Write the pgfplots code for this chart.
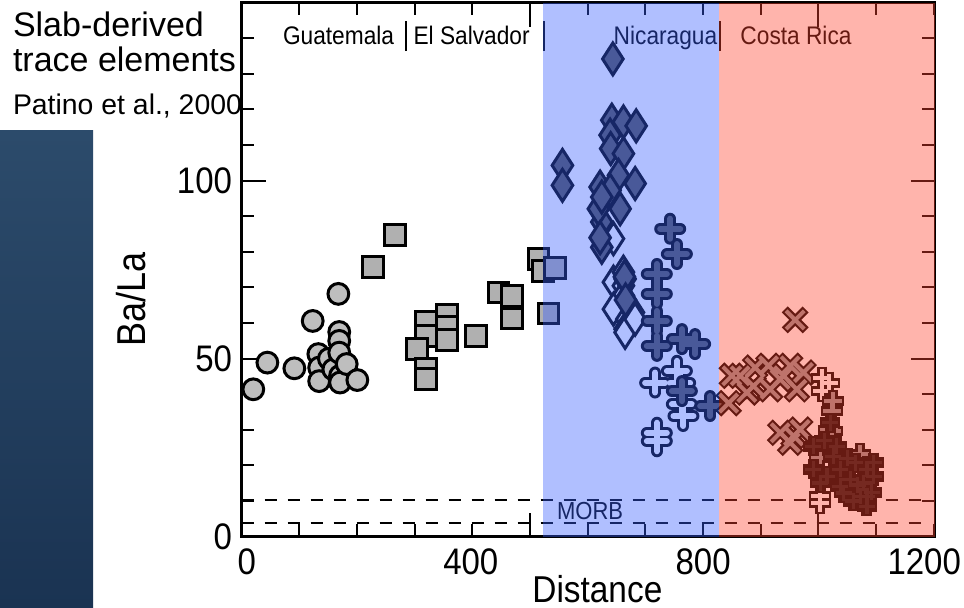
\documentclass[border=0pt]{standalone}
\usepackage{pgfplots}
\pgfplotsset{compat=1.18}
\usepackage{pgfplotstable}
\usepackage{graphicx}
\usepackage{fontspec}
\setmainfont{Liberation Sans}
\newcommand{\tall}[1]{\scalebox{1}[1.12]{#1}}
\definecolor{ovblue}{RGB}{57,95,255}
\definecolor{ovred}{RGB}{255,67,47}
\definecolor{gcirc}{RGB}{190,190,190}
\definecolor{gsq}{RGB}{176,176,176}
\definecolor{gdark}{RGB}{85,85,85}
\definecolor{gmid}{RGB}{147,147,147}
\definecolor{gblk}{RGB}{25,25,25}
\definecolor{panelTop}{RGB}{44,75,107}
\definecolor{panelBot}{RGB}{26,51,82}

% Guatemala (circles)
\pgfplotstableread{
x y
20.1 41.4
44.5 48.9
91.3 47.3
123.1 60.6
132.9 51.3
134.3 47.5
134.3 43.7
151.2 50.0
158.8 47.0
167.6 68.2
169.1 57.5
169.1 55.0
169.1 51.7
170.5 45.2
170.5 43.3
182.0 48.5
200.5 44.0
}\guat
% El Salvador (squares)
\pgfplotstableread{
x y
265.9 84.8
228.2 75.7
319.0 60.2
319.0 56.4
303.5 52.7
319.0 47.0
319.0 44.2
356.6 62.3
356.6 59.0
356.6 55.3
405.8 56.4
445.1 68.6
468.2 67.7
468.2 61.3
514.4 78.0
523.0 74.7
543.4 75.4
531.8 62.7
}\salv
% Nicaragua open diamonds
\pgfplotstableread{
x y
644.5 83.7
644.5 71.5
661.8 74.3
661.8 70.5
661.8 67.7
644.5 63.9
667.7 61.1
664.7 58.3
679.2 63.0
664.7 72.4
664.7 57.4
682.1 61.1
}\diaO
% Nicaragua filled diamonds
\pgfplotstableread{
x y
643.5 134.2
556.1 104.3
556.1 98.7
641.7 117.0
661.8 116.5
683.9 115.4
638.7 112.8
639.7 109.0
661.8 107.6
653.2 101.5
682.1 99.2
621.4 98.2
638.7 97.3
656.1 92.1
624.3 88.4
618.4 92.1
624.3 95.4
624.3 81.3
621.4 84.0
663.5 73.0
665.5 66.5
}\diaF
% Nicaragua open crosses
\pgfplotstableread{
x y
716.8 43.3
754.5 46.6
763.1 37.2
765.9 33.9
719.7 29.2
719.7 26.8
760.1 43.3
}\crsO
% Nicaragua filled crosses
\pgfplotstableread{
x y
742.9 86.5
754.5 79.4
719.7 73.8
719.7 68.2
719.7 60.6
719.7 53.6
763.1 55.5
786.1 54.1
763.1 40.9
812.2 36.7
}\crsF
% Costa Rica x marks
\pgfplotstableread{
x y
959.6 60.9
864.2 45.2
890.2 47.5
913.3 48.0
933.6 44.2
950.9 48.0
962.5 41.4
916.2 41.4
887.3 42.3
933.6 29.2
956.7 28.3
968.3 30.1
950.9 26.4
875.8 40.5
849.8 45.2
939.4 45.2
974.0 46.1
844.2 37.5
}\xmk
% Costa Rica open plus
\pgfplotstableread{
x y
1005.9 44.7
1005.9 40.9
1017.4 43.3
1003.0 11.4
1003.0 9.5
}\plO
% Costa Rica filled plus
\pgfplotstableread{
x y
1023.3 35.3
1023.3 29.7
1017.4 30.1
1003.0 22.2
1072.3 23.1
1025.0 38.0
}\plF
% Costa Rica dark plus
\pgfplotstableread{
x y
991.2 18.9
1014.6 17.0
1037.6 18.9
1037.6 14.2
1055.0 16.1
1084.0 18.9
1084.0 11.4
1084.0 8.5
1095.5 17.0
1095.5 20.8
1063.7 20.8
1026.0 22.6
1003.0 15.1
1072.3 11.4
1043.4 12.3
1078.1 15.1
1031.9 25.4
991.2 25.4
1020.3 32.0
1092.5 12.5
1049.7 22.0
1010.0 27.0
1060.0 10.0
1068.0 14.5
}\plD

\begin{document}
\begin{tikzpicture}
\shade[top color=panelTop, bottom color=panelBot] (0pt,0pt) rectangle (46.5pt,238.5pt);
\node[anchor=base west, inner sep=0, font=\fontsize{17}{18}\selectfont] at (6.3pt,285.6pt) {Slab-derived};
\node[anchor=base west, inner sep=0, font=\fontsize{17}{18}\selectfont] at (6.3pt,268.1pt) {trace elements};
\node[anchor=base west, inner sep=0, font=\fontsize{14.2}{16}\selectfont] at (6.3pt,246.5pt) {Patino et al., 2000};
\begin{axis}[
  at={(120.85pt,35.65pt)}, anchor=south west,
  scale only axis, width=346.65pt, height=267pt,
  xmin=0, xmax=1202, ymin=0, ymax=150,
  set layers,
  clip marker paths=true,
  axis line style={line width=1.3pt, black},
  every tick/.style={black, line width=1pt},
  tick align=inside,
  xtick={0,500,1000},
  minor xtick={100,200,300,400,600,700,800,900,1100,1200},
  xticklabels={,,},
  ytick={0,50,100},
  yticklabels={\tall{0},\tall{50},\tall{100}},
  minor ytick={10,20,30,40,60,70,80,90,110,120,130,140},
  major tick length=12pt,
  minor tick length=6.3pt,
  extra x ticks={8.7,397.2,800,1183.3},
  extra x tick labels={\tall{0},\tall{400},\tall{800},\tall{1200}},
  extra x tick style={major tick length=0pt, xticklabel style={yshift=-2.5pt}},
  tick label style={font=\fontsize{16.5}{17}\selectfont},
  yticklabel style={xshift=-1.3pt},
  /pgf/number format/assume math mode=true,
  xlabel={\tall{Distance}},
  ylabel={\tall{Ba/La}},
  xlabel style={at={(axis description cs:0.513,0)}, anchor=base, yshift=-33pt, inner sep=0pt, font=\fontsize{16.7}{17}\selectfont},
  ylabel style={at={(axis description cs:-0.160,0.444)}, anchor=center, inner sep=0pt, font=\fontsize{18}{18}\selectfont},
]
% MORB lines
\addplot[black, line width=1.1pt, dash pattern=on 6pt off 5.5pt] coordinates {(0,10.4) (1181.6,10.4)};
\addplot[black, line width=1.1pt, dash pattern=on 6pt off 5.5pt] coordinates {(0,3.9) (1181.6,3.9)};
\node[inner sep=0, font=\fontsize{11}{11}\selectfont] at (axis cs:604,7.3) {\tall{MORB}};
% country labels
\addplot[black, line width=1pt] coordinates {(284.4,136.4) (284.4,144.8)};
\addplot[black, line width=1pt] coordinates {(524.3,136.4) (524.3,144.8)};
\addplot[black, line width=1pt] coordinates {(829.5,136.4) (829.5,144.8)};
\node[inner sep=0, anchor=base, font=\fontsize{11.35}{12}\selectfont] at (axis cs:167.9,138.3) {\tall{Guatemala}};
\node[inner sep=0, anchor=base, font=\fontsize{11.35}{12}\selectfont] at (axis cs:398.6,138.3) {\tall{El Salvador}};
\node[inner sep=0, anchor=base, font=\fontsize{11.35}{12}\selectfont] at (axis cs:734.7,138.3) {\tall{Nicaragua}};
\node[inner sep=0, anchor=base, font=\fontsize{11.35}{12}\selectfont] at (axis cs:961,138.3) {\tall{Costa Rica}};
% Guatemala circles
\addplot[only marks, mark=*, mark size=5.2pt, mark options={draw=black, fill=gcirc, line width=1.5pt}] table {\guat};
% El Salvador squares
\addplot[only marks, mark=square*, mark size=5.2pt, mark options={draw=black, fill=gsq, line width=1.5pt}] table {\salv};
% Nicaragua diamonds
\addplot[only marks, mark=diamond*, mark size=8pt, mark options={draw=black, fill=white, line width=1.5pt, xscale=0.86}] table {\diaO};
\addplot[only marks, mark=diamond*, mark size=8pt, mark options={draw=black, fill=gdark, line width=1.5pt, xscale=0.86}] table {\diaF};
% Nicaragua crosses
\addplot[only marks, mark=+, mark size=5pt, mark options={draw=black, line width=6pt, line cap=round}] table {\crsO};
\addplot[only marks, mark=+, mark size=5pt, mark options={draw=white, line width=3pt, line cap=round}] table {\crsO};
\addplot[only marks, mark=+, mark size=5pt, mark options={draw=black, line width=6pt, line cap=round}] table {\crsF};
\addplot[only marks, mark=+, mark size=5pt, mark options={draw=gdark, line width=3pt, line cap=round}] table {\crsF};
% Costa Rica x marks
\addplot[only marks, mark=x, mark size=7.4pt, mark options={draw=black, line width=4.2pt}] table {\xmk};
\addplot[only marks, mark=x, mark size=6.4pt, mark options={draw=gmid, line width=2pt}] table {\xmk};
% Costa Rica plus
\addplot[only marks, mark=+, mark size=5.5pt, mark options={draw=black, line width=5pt}] table {\plO};
\addplot[only marks, mark=+, mark size=4.5pt, mark options={draw=white, line width=2pt}] table {\plO};
\addplot[only marks, mark=+, mark size=5.5pt, mark options={draw=black, line width=5pt}] table {\plF};
\addplot[only marks, mark=+, mark size=4.5pt, mark options={draw=gmid, line width=2pt}] table {\plF};
\addplot[only marks, mark=+, mark size=5pt, mark options={draw=black, line width=5.5pt}] table {\plD};
\addplot[only marks, mark=+, mark size=4pt, mark options={draw=gblk, line width=1.6pt}] table {\plD};
% translucent country overlays
\addplot[draw=none, fill=ovblue, fill opacity=0.4] coordinates {(522,150) (828.3,150)} \closedcycle;
\addplot[draw=none, fill=ovred, fill opacity=0.4] coordinates {(828.3,150) (1202,150)} \closedcycle;
\end{axis}
\pgfresetboundingbox
\useasboundingbox (0pt,0pt) rectangle (482pt,304pt);
\end{tikzpicture}
\end{document}
